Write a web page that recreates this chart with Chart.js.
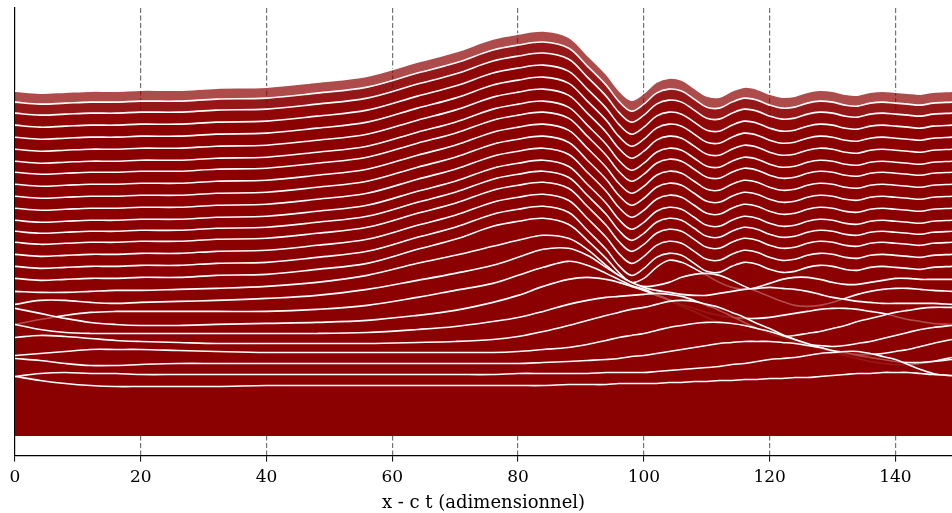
<!DOCTYPE html>
<html>
<head>
<meta charset="utf-8">
<script src="https://cdn.jsdelivr.net/npm/chart.js@4.4.1/dist/chart.umd.min.js"></script>
<style>
  html, body { margin: 0; padding: 0; background: #fff; }
  canvas { display: block; }
</style>
</head>
<body>
<canvas id="ridge" width="952" height="513"></canvas>
<script>
// abscisses communes (x - c t)
const xPos = [0,4,8,12,16,20,26,32,40,48,56,64,70,76,80,84,88,91,94,96,98,100,102,104,106,108,110,112,114,116,118,120,122,124,126,128,130,132,134,136,138,140,142,144,146,149]
const xTicks = [0,20,40,60,80,100,120,140]

// un profil par instant, du plus bas (u00) au plus haut (u26), hauteur
const u00 = [59,55,52,50,49,49,49,49,50,50,50,50,50,50,50,50,51,51,51,52,52,52,52,53,53,54,54,55,55,56,56,57,57,58,58,59,60,61,62,62,63,63,63,62,61,60]
const u01 = [59,62,63,62,62,61,61,61,61,61,61,61,61,61,62,62,62,62,63,63,63,63,64,65,66,67,68,69,71,72,74,76,77,78,80,82,83,84,84,82,79,76,71,66,62,59]
const u02 = [77,75,72,70,70,71,72,72,72,72,72,72,72,72,72,73,74,75,76,77,79,80,82,84,86,88,90,92,93,94,94,94,93,92,90,88,85,83,80,78,76,74,73,73,74,76]
const u03 = [80,82,84,86,86,86,85,84,83,83,83,83,83,83,84,86,88,91,95,98,100,102,105,108,110,112,113,113,112,110,107,104,100,96,92,88,84,80,77,74,72,71,71,72,74,78]
const u04 = [98,100,99,97,95,94,93,92,92,92,92,93,94,96,99,104,110,115,120,123,126,128,131,134,135,134,131,128,123,118,112,107,101,96,91,87,84,82,81,81,82,84,86,89,92,96]
const u05 = [111,106,103,102,102,102,102,102,102,102,103,106,109,114,118,124,131,135,138,139,140,141,142,141,139,135,130,125,119,113,107,102,98,94,91,90,89,90,92,94,97,100,103,106,108,110]
const u06 = [127,122,117,113,111,110,110,111,112,113,115,120,125,133,140,149,156,158,156,153,149,145,140,135,129,124,118,113,109,105,102,100,99,100,102,104,107,110,114,117,120,123,125,127,128,128]
const u07 = [111,116,120,123,124,124,124,124,124,126,130,138,145,152,160,168,174,170,162,156,150,146,141,136,131,127,123,120,118,117,117,118,120,122,124,126,127,127,126,124,122,119,116,114,112,111]
const u08 = [131,135,135,133,132,133,134,135,137,140,146,155,162,170,178,186,187,180,168,160,153,148,145,143,141,140,140,142,144,146,147,148,147,146,144,141,138,136,134,133,132,132,132,132,132,131]
const u09 = [144,143,143,144,145,145,146,147,149,153,160,172,180,189,195,200,197,186,170,160,153,149,150,153,158,161,162,160,155,149,144,139,134,130,129,130,133,137,141,144,146,147,147,146,145,144]
const u10 = [157,155,156,157,157,158,158,160,161,166,172,186,196,209,214,217,211,195,177,163,153,157,168,175,173,167,160,153,148,146,148,152,156,158,158,156,153,151,151,153,155,157,157,156,156,156]
const u11 = [169,167,168,169,169,170,170,172,173,178,184,198,208,221,226,229,223,205,186,170,160,167,178,182,180,172,164,163,169,173,171,166,163,164,168,170,169,166,165,168,169,168,167,166,168,169]
const u12 = [181,179,180,181,181,182,182,184,185,190,196,210,220,233,238,241,235,217,198,182,172,179,190,194,192,184,176,175,181,185,183,178,175,176,180,182,181,178,177,180,181,180,179,178,180,181]
const u13 = [193,191,192,193,193,194,194,196,197,202,208,222,232,245,250,253,247,229,210,194,184,191,202,206,204,196,188,187,193,197,195,190,187,188,192,194,193,190,189,192,193,192,191,190,192,193]
const u14 = [204,202,203,204,204,205,205,207,208,213,219,233,243,256,261,264,258,240,221,205,195,202,213,217,215,207,199,198,204,208,206,201,198,199,203,205,204,201,200,203,204,203,202,201,203,204]
const u15 = [215,213,214,215,215,216,216,218,219,224,230,244,254,267,272,275,269,251,232,216,206,213,224,228,226,218,210,209,215,219,217,212,209,210,214,216,215,212,211,214,215,214,213,212,214,215]
const u16 = [227,225,226,227,227,228,228,230,231,236,242,256,266,279,284,287,281,263,244,228,218,225,236,240,238,230,222,221,227,231,229,224,221,222,226,228,227,224,223,226,227,226,225,224,226,227]
const u17 = [239,237,238,239,239,240,240,242,243,248,254,268,278,291,296,299,293,275,256,240,230,237,248,252,250,242,234,233,239,243,241,236,233,234,238,240,239,236,235,238,239,238,237,236,238,239]
const u18 = [251,249,250,251,251,252,252,254,255,260,266,280,290,303,308,311,305,287,268,252,242,249,260,264,262,254,246,245,251,255,253,248,245,246,250,252,251,248,247,250,251,250,249,248,250,251]
const u19 = [263,261,262,263,263,264,264,266,267,272,278,292,302,315,320,323,317,299,280,264,254,261,272,276,274,266,258,257,263,267,265,260,257,258,262,264,263,260,259,262,263,262,261,260,262,263]
const u20 = [274,272,273,274,274,275,275,277,278,283,289,303,313,326,331,334,328,310,291,275,265,272,283,287,285,277,269,268,274,278,276,271,268,269,273,275,274,271,270,273,274,273,272,271,273,274]
const u21 = [286,284,285,286,286,287,287,289,290,295,301,315,325,338,343,346,340,322,303,287,277,284,295,299,297,289,281,280,286,290,288,283,280,281,285,287,286,283,282,285,286,285,284,283,285,286]
const u22 = [298,296,297,298,298,299,299,301,302,307,313,327,337,350,355,358,352,334,315,299,289,296,307,311,309,301,293,292,298,302,300,295,292,293,297,299,298,295,294,297,298,297,296,295,297,298]
const u23 = [310,308,309,310,310,311,311,313,314,319,325,339,349,362,367,370,364,346,327,311,301,308,319,323,321,313,305,304,310,314,312,307,304,305,309,311,310,307,306,309,310,309,308,307,309,310]
const u24 = [322,320,321,322,322,323,323,325,326,331,337,351,361,374,379,382,376,358,339,323,313,320,331,335,333,325,317,316,322,326,324,319,316,317,321,323,322,319,318,321,322,321,320,319,321,322]
const u25 = [333,331,332,333,333,334,334,336,337,342,348,362,372,385,390,393,387,369,350,334,324,331,342,346,344,336,328,327,333,337,335,330,327,328,332,334,333,330,329,332,333,332,331,330,332,333]
const u26 = [344,342,343,344,344,345,345,347,348,353,359,373,383,396,401,404,398,380,361,345,335,342,353,357,355,347,339,338,344,348,346,341,338,339,343,345,344,341,340,343,344,343,342,341,343,344]

const profils = [u00,u01,u02,u03,u04,u05,u06,u07,u08,u09,u10,u11,u12,u13,u14,u15,u16,u17,u18,u19,u20,u21,u22,u23,u24,u25,u26]

// le premier jeu est dessine en dernier : le bas de la pile recouvre le haut
const datasets = profils.map(p => ({
    data: p.map((y, i) => ({x: xPos[i], y: y})),
    fill: 'origin',
    backgroundColor: 'rgba(139, 0, 0, 0.7)',
    borderColor: '#ffffff',
    borderWidth: 1.6,
    pointRadius: 0,
    tension: 0.35
}))

const serif = 'DejaVu Serif'

new Chart(document.getElementById('ridge'), {
    type: 'line',
    data: {datasets: datasets},
    options: {
        responsive: false,
        animation: false,
        devicePixelRatio: 1,
        layout: {padding: {left: 15, top: 8, right: 0, bottom: 0}},
        plugins: {legend: {display: false}, tooltip: {enabled: false}},
        scales: {
            x: {
                type: 'linear', min: 0, max: 149, z: 1,
                afterBuildTicks: axis => { axis.ticks = xTicks.map(v => ({value: v})) },
                ticks: {color: '#000', font: {family: serif, size: 17}, padding: 6, maxRotation: 0, autoSkip: false},
                grid: {
                    color: ctx => (ctx.tick && ctx.tick.value === 0) ? 'rgba(0,0,0,0)' : 'rgba(0,0,0,0.55)',
                    lineWidth: 1.2, tickColor: '#000', tickLength: 6, tickWidth: 1
                },
                border: {display: true, color: '#000', width: 1.2, dash: [5, 2.5]},
                title: {display: true, text: 'x - c t (adimensionnel)', color: '#000', font: {family: serif, size: 18, lineHeight: 1}, padding: {top: 0, bottom: 1}}
            },
            y: {
                min: -20, max: 427, z: 1,
                ticks: {display: false},
                grid: {display: false, drawTicks: false},
                border: {display: true, color: '#000', width: 1.2}
            }
        }
    }
})
</script>
</body>
</html>
